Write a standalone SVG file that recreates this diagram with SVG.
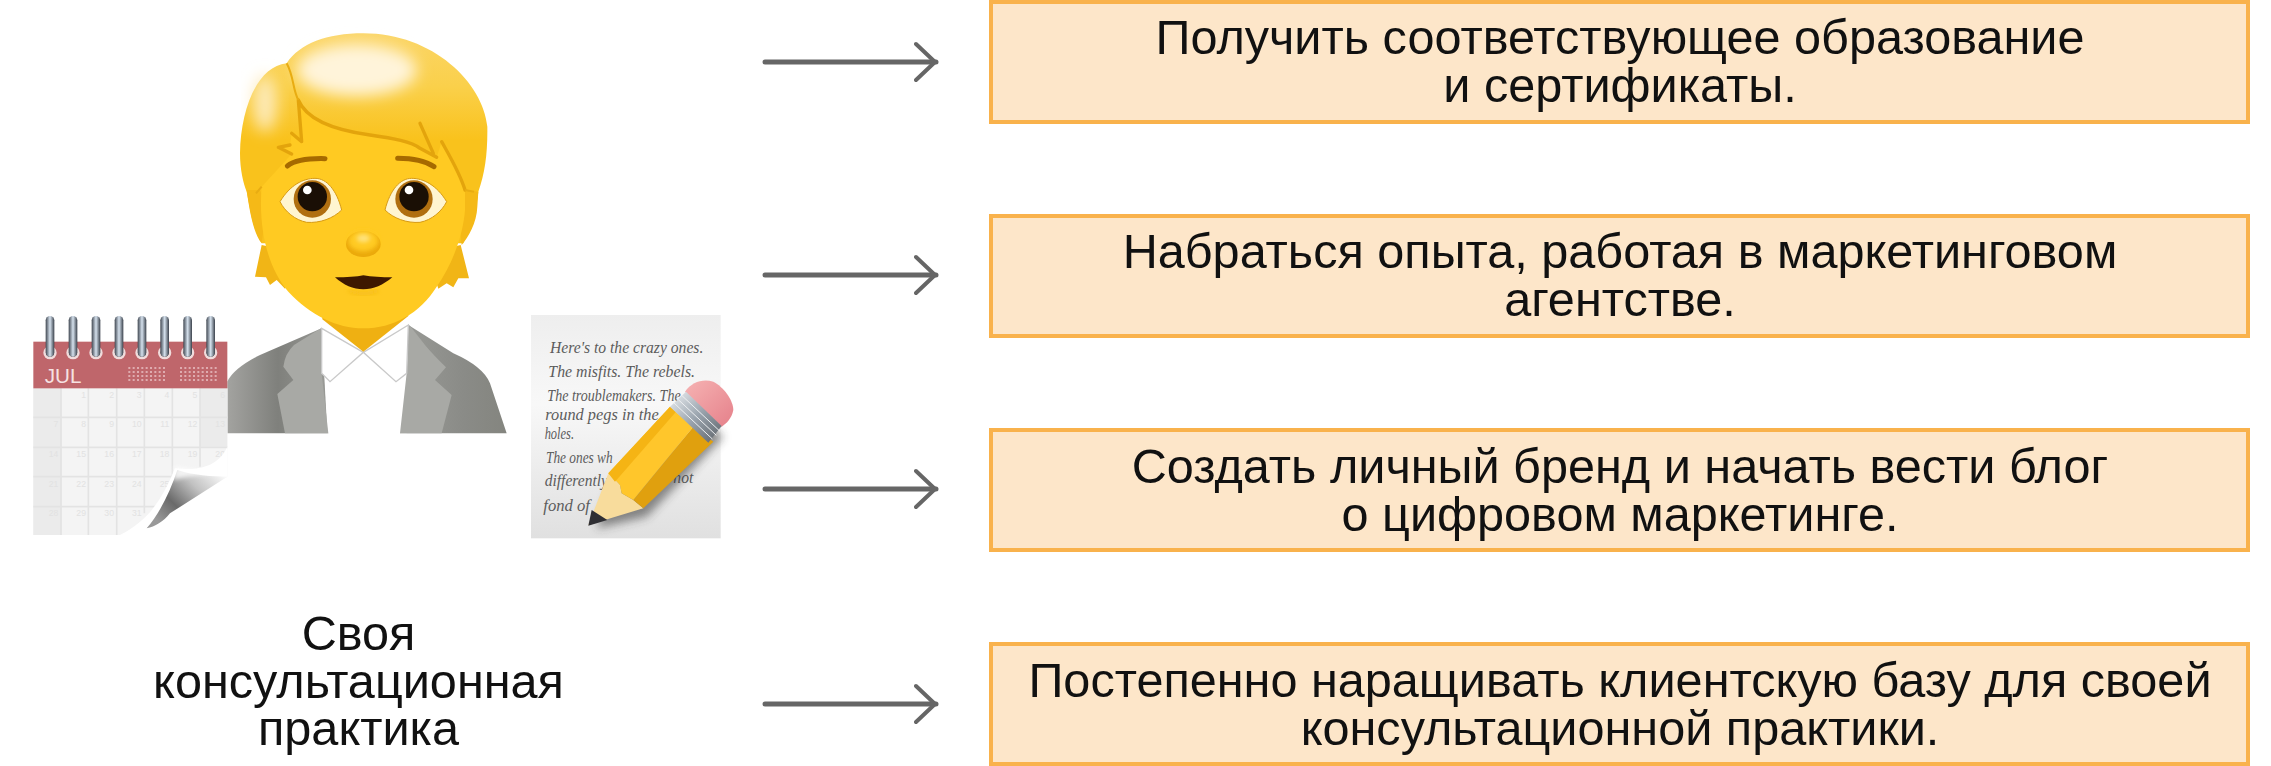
<svg xmlns="http://www.w3.org/2000/svg" width="2271" height="766" viewBox="0 0 2271 766">
<style>
.box{fill:#fde6c9;stroke:#f9b24c;stroke-width:4}
.t{font-family:"Liberation Sans",Arial,sans-serif;font-size:48.6px;fill:#111;text-anchor:middle}
.arr{fill:none;stroke:#666;stroke-linecap:round;stroke-linejoin:round}
.ln{stroke:#e3e3e3;stroke-width:5;fill:none}
.num{font-family:"Liberation Sans",sans-serif;font-size:26px;fill:#e2e2e2;text-anchor:end}
.hw{font-family:"Liberation Serif",serif;font-style:italic;font-size:48px;fill:#5c5c5c}
.strand{fill:none;stroke:#e3a40c;stroke-width:10;stroke-linecap:round;stroke-linejoin:round}
</style>
<defs>
<linearGradient id="hair" gradientUnits="userSpaceOnUse" x1="0" y1="40" x2="0" y2="360"><stop offset="0" stop-color="#fbd566"/><stop offset=".5" stop-color="#fad04a"/><stop offset="1" stop-color="#f9c21c"/></linearGradient>
<linearGradient id="jk" x1="0" y1="0" x2="1" y2="0"><stop offset="0" stop-color="#a3a3a0"/><stop offset=".5" stop-color="#7f807c"/><stop offset="1" stop-color="#9a9b97"/></linearGradient>
<linearGradient id="jk2" x1="0" y1="0" x2="1" y2="0"><stop offset="0" stop-color="#9a9b97"/><stop offset=".6" stop-color="#8a8b87"/><stop offset="1" stop-color="#84857f"/></linearGradient>
<linearGradient id="ring" x1="0" y1="0" x2="1" y2="0"><stop offset="0" stop-color="#3f4650"/><stop offset=".5" stop-color="#d6e2ee"/><stop offset="1" stop-color="#39404a"/></linearGradient>
<linearGradient id="curl" x1=".05" y1=".75" x2=".95" y2=".1"><stop offset="0" stop-color="#999"/><stop offset=".3" stop-color="#6a6a6a"/><stop offset=".65" stop-color="#c2c2c2"/><stop offset="1" stop-color="#f8f8f8"/></linearGradient>
<linearGradient id="paper" x1="0" y1="0" x2="0" y2="1"><stop offset="0" stop-color="#eeeeee"/><stop offset=".4" stop-color="#f8f8f8"/><stop offset="1" stop-color="#e0e0e0"/></linearGradient>
<linearGradient id="pink" x1="0" y1="0" x2="1" y2="1"><stop offset="0" stop-color="#f6b3b3"/><stop offset="1" stop-color="#e5808a"/></linearGradient>
<linearGradient id="metal" x1="0" y1="0" x2="1" y2="1"><stop offset="0" stop-color="#eef1f4"/><stop offset=".5" stop-color="#9aa4ae"/><stop offset="1" stop-color="#5d6268"/></linearGradient>
<filter id="blur" x="-30%" y="-30%" width="160%" height="160%"><feGaussianBlur stdDeviation="14"/></filter>
<filter id="soft" x="-50%" y="-50%" width="200%" height="200%"><feGaussianBlur stdDeviation="22"/></filter>
<filter id="soft2" x="-50%" y="-50%" width="200%" height="200%"><feGaussianBlur stdDeviation="6"/></filter>
<marker id="head" markerUnits="userSpaceOnUse" markerWidth="30" markerHeight="46" refX="22" refY="23" orient="auto"><path d="M2 5L21 23L2 41" fill="none" stroke="#666" stroke-width="4" stroke-linecap="round" stroke-linejoin="round"/></marker>
</defs>

<g id="connectors">
<path class="arr" stroke-width="5" marker-end="url(#head)" d="M765 62H936"/>
<path class="arr" stroke-width="5" marker-end="url(#head)" d="M765 275H936"/>
<path class="arr" stroke-width="5" marker-end="url(#head)" d="M765 489H936"/>
<path class="arr" stroke-width="5" marker-end="url(#head)" d="M765 704H936"/>
</g>

<g id="step1"><rect class="box" x="991" y="2" width="1257" height="120"/>
<text class="t" x="1620" y="54">Получить соответствующее образование</text>
<text class="t" x="1620" y="102">и сертификаты.</text></g>
<g id="step2"><rect class="box" x="991" y="216" width="1257" height="120"/>
<text class="t" x="1620" y="268">Набраться опыта, работая в маркетинговом</text>
<text class="t" x="1620" y="316">агентстве.</text></g>
<g id="step3"><rect class="box" x="991" y="430" width="1257" height="120"/>
<text class="t" x="1620" y="483">Создать личный бренд и начать вести блог</text>
<text class="t" x="1620" y="531">о цифровом маркетинге.</text></g>
<g id="step4"><rect class="box" x="991" y="644" width="1257" height="120"/>
<text class="t" x="1620" y="697">Постепенно наращивать клиентскую базу для своей</text>
<text class="t" x="1620" y="745">консультационной практики.</text></g>

<g id="label">
<text class="t" x="358.500" y="650">Своя</text>
<text class="t" x="358.500" y="698">консультационная</text>
<text class="t" x="358.500" y="745">практика</text>
</g>

<g id="person" transform="translate(220 20) scale(.33333)">
<path fill="url(#jk)" d="M22 1240L22 1085Q40 1045 120 1005L305 925L325 1240Z"/>
<path fill="url(#jk2)" d="M860 1240L810 1090Q790 1040 700 1000L565 915L540 1240Z"/>
<path fill="#fff" d="M305 915L565 915L560 1240L322 1240Z"/>
<path fill="#a8a9a5" d="M303 925L222 975Q195 1000 190 1040L220 1080L172 1122L195 1240L325 1240L305 1060Z"/>
<path fill="#a8a9a5" d="M568 915L615 975Q640 1005 678 1042L645 1080L695 1125L665 1240L540 1240L560 1060Z"/>
<path fill="#fff" stroke="#c9c9c9" stroke-width="4" d="M305 925L430 997L330 1085L305 1060Z"/>
<path fill="#fff" stroke="#c9c9c9" stroke-width="4" d="M565 915L430 997L528 1085L560 1060Z"/>
<path fill="#efb012" d="M307 898L430 995L565 888L565 840L307 840Z"/>
<path fill="#f1b516" d="M125 675L105 770L138 772L150 795L170 780L195 806L240 700ZM722 675L747 775L715 775L700 802L680 790L655 806L620 700Z"/>
<path fill="url(#hair)" d="M200 130C110 140 62 270 60 400C60 450 70 490 80 515C90 560 95 620 125 670L730 670C750 620 770 570 775 515C795 460 803 400 802 320C790 190 640 40 430 40C320 40 240 70 200 130Z"/>
<ellipse cx="410" cy="150" rx="180" ry="78" fill="#fff4da" filter="url(#soft)"/>
<ellipse cx="135" cy="250" rx="35" ry="85" fill="#fdeab8" filter="url(#soft)"/>
<path fill="#f5b917" d="M80 510C88 570 100 640 125 670L140 560L120 510ZM775 515L772 560C770 610 745 650 725 675L715 560L735 510Z"/>
<path fill="#ffca22" d="M235 240C260 300 340 330 450 345C520 355 575 365 600 385L650 412L665 365C690 410 720 460 735 510L735 570C730 640 700 730 650 800C600 880 520 925 430 925C350 925 270 885 205 815C140 740 115 620 125 500L215 402L175 382L210 375L215 340L245 365Z"/>
<path class="strand" d="M235 240C260 300 340 330 450 345C520 355 575 365 600 385L650 412M600 310L640 400M665 365C690 410 720 460 735 510M235 240L245 365L215 340M210 375L175 382L215 402"/>
<path fill="none" stroke="#e8ac12" stroke-width="6" d="M200 130C222 170 218 210 235 240M125 500L108 520M735 510L762 515"/>
<g id="face-details">
<path fill="none" stroke="#a66a00" stroke-width="15" stroke-linecap="round" d="M202 438C225 420 270 415 315 416M533 415C575 415 615 422 642 440"/>
<path fill="#fff5d0" stroke="#d79a12" stroke-width="3" d="M180 545C210 495 250 475 285 475C320 475 350 510 365 570C340 595 300 610 260 607C225 600 195 575 180 545Z"/>
<path fill="#fff5d0" stroke="#d79a12" stroke-width="3" d="M680 545C650 495 610 475 575 475C540 475 510 510 495 570C520 595 560 610 600 607C635 600 665 575 680 545Z"/>
<circle cx="277" cy="537" r="56" fill="#b06f10"/><circle cx="277" cy="530" r="44" fill="#1a0f05"/><circle cx="262" cy="510" r="13" fill="#fff"/>
<circle cx="582" cy="537" r="56" fill="#b06f10"/><circle cx="582" cy="530" r="44" fill="#1a0f05"/><circle cx="567" cy="510" r="13" fill="#fff"/>
<ellipse cx="430" cy="672" rx="52" ry="39" fill="#eba90b"/>
<ellipse cx="430" cy="662" rx="45" ry="32" fill="#ffca22" filter="url(#soft2)"/>
<ellipse cx="430" cy="655" rx="20" ry="12" fill="#ffe27a" filter="url(#soft2)"/>
<path fill="#3d1800" d="M345 772C380 772 410 770 430 766C455 770 485 772 517 772C490 795 460 808 430 808C400 808 370 795 345 772Z"/>
<path fill="none" stroke="#f0b216" stroke-width="6" d="M385 812Q430 830 475 812" filter="url(#soft2)"/>
</g>
</g>

<g id="calendar" transform="translate(0 300) scale(.33333)">
<path fill="#f4f4f4" d="M100 265H682V530L500 620C470 660 430 690 360 705H100Z"/>
<path fill="#ebebeb" d="M100 265H183V705H100ZM600 265H682V440H600Z"/>
<path class="ln" d="M183 265V705M265 265V705M350 265V705M433 265V640M517 265V560M600 265V500M100 352H682M100 442H682M100 530H540M100 620H480"/>
<g class="num">
<text x="258" y="294">1</text><text x="342" y="294">2</text><text x="425" y="294">3</text><text x="508" y="294">4</text><text x="592" y="294">5</text><text x="675" y="294">6</text>
<text x="175" y="382">7</text><text x="258" y="382">8</text><text x="342" y="382">9</text><text x="425" y="382">10</text><text x="508" y="382">11</text><text x="592" y="382">12</text><text x="675" y="382">13</text>
<text x="175" y="472">14</text><text x="258" y="472">15</text><text x="342" y="472">16</text><text x="425" y="472">17</text><text x="508" y="472">18</text><text x="592" y="472">19</text><text x="675" y="472">20</text>
<text x="175" y="560">21</text><text x="258" y="560">22</text><text x="342" y="560">23</text><text x="425" y="560">24</text><text x="508" y="560">25</text>
<text x="175" y="648">28</text><text x="258" y="648">29</text><text x="342" y="648">30</text><text x="425" y="648">31</text>
</g>
<path fill="#fff" d="M682 440C660 490 610 515 525 505C490 590 450 660 360 705C440 700 480 675 510 625L682 530Z"/>
<path fill="url(#curl)" d="M532 510C575 525 640 530 682 530L510 640C490 665 465 680 440 685C480 640 512 570 532 510Z"/>
<path fill="#fff" opacity=".8" filter="url(#soft2)" d="M525 500L640 520L560 530L520 540Z"/>
<rect x="100" y="125" width="582" height="140" fill="#bf666b"/>
<text x="134" y="250" font-family="Liberation Sans,sans-serif" font-size="62" fill="#f6e2e2">JUL</text>
<path fill="none" stroke="#e9c3c5" stroke-width="6" stroke-dasharray="6 7" d="M385 204H500M385 216H500M385 228H500M385 240H500M540 204H655M540 216H655M540 228H655M540 240H655" opacity=".75"/>
<g id="rings">
<g><circle cx="150" cy="158" r="20" fill="#f0dcdc"/><circle cx="150" cy="158" r="12" fill="#302a2c"/><rect x="137" y="48" width="26" height="122" rx="13" fill="url(#ring)"/></g>
<g transform="translate(69 0)"><circle cx="150" cy="158" r="20" fill="#f0dcdc"/><circle cx="150" cy="158" r="12" fill="#302a2c"/><rect x="137" y="48" width="26" height="122" rx="13" fill="url(#ring)"/></g>
<g transform="translate(138 0)"><circle cx="150" cy="158" r="20" fill="#f0dcdc"/><circle cx="150" cy="158" r="12" fill="#302a2c"/><rect x="137" y="48" width="26" height="122" rx="13" fill="url(#ring)"/></g>
<g transform="translate(207 0)"><circle cx="150" cy="158" r="20" fill="#f0dcdc"/><circle cx="150" cy="158" r="12" fill="#302a2c"/><rect x="137" y="48" width="26" height="122" rx="13" fill="url(#ring)"/></g>
<g transform="translate(276 0)"><circle cx="150" cy="158" r="20" fill="#f0dcdc"/><circle cx="150" cy="158" r="12" fill="#302a2c"/><rect x="137" y="48" width="26" height="122" rx="13" fill="url(#ring)"/></g>
<g transform="translate(344 0)"><circle cx="150" cy="158" r="20" fill="#f0dcdc"/><circle cx="150" cy="158" r="12" fill="#302a2c"/><rect x="137" y="48" width="26" height="122" rx="13" fill="url(#ring)"/></g>
<g transform="translate(413 0)"><circle cx="150" cy="158" r="20" fill="#f0dcdc"/><circle cx="150" cy="158" r="12" fill="#302a2c"/><rect x="137" y="48" width="26" height="122" rx="13" fill="url(#ring)"/></g>
<g transform="translate(482 0)"><circle cx="150" cy="158" r="20" fill="#f0dcdc"/><circle cx="150" cy="158" r="12" fill="#302a2c"/><rect x="137" y="48" width="26" height="122" rx="13" fill="url(#ring)"/></g>
</g>
</g>

<g id="note" transform="translate(500 290) scale(.33333)">
<rect x="93" y="75" width="569" height="670" fill="url(#paper)"/>
<g class="hw">
<text x="150" y="188" textLength="460" lengthAdjust="spacingAndGlyphs">Here's to the crazy ones.</text>
<text x="145" y="262" textLength="440" lengthAdjust="spacingAndGlyphs">The misfits. The rebels.</text>
<text x="142" y="332" textLength="400" lengthAdjust="spacingAndGlyphs">The troublemakers. The</text>
<text x="136" y="390" textLength="340" lengthAdjust="spacingAndGlyphs">round pegs in the</text>
<text x="134" y="448" textLength="88" lengthAdjust="spacingAndGlyphs">holes.</text>
<text x="138" y="518" textLength="200" lengthAdjust="spacingAndGlyphs">The ones wh</text>
<text x="134" y="588" textLength="190" lengthAdjust="spacingAndGlyphs">differently</text>
<text x="520" y="580" textLength="60" lengthAdjust="spacingAndGlyphs">not</text>
<text x="130" y="662" textLength="140" lengthAdjust="spacingAndGlyphs">fond of</text>
</g>
<path fill="#333" opacity=".55" filter="url(#blur)" d="M290 715L440 680L670 440L620 400L330 600Z"/>
<path fill="#f8dc9c" d="M325 550L265 705L430 655L400 630L365 610L360 585Z"/>
<path fill="#2f2f33" d="M275 660L265 707L322 690Z"/>
<path fill="#e0a00e" d="M400 630L430 655L640 455L580 410Z"/>
<path fill="#ffc62b" d="M325 550L510 350L580 410L400 630L365 610L360 585Z"/>
<path fill="#f5b414" d="M325 550L510 350L528 365L345 575Z"/>
<path fill="url(#pink)" d="M555 305C575 275 610 265 640 275C670 290 700 330 700 360C695 385 680 400 665 410Z"/>
<path fill="url(#metal)" d="M510 350L558 305L665 408L625 458Z"/>
<path fill="none" stroke="#eef0f2" stroke-width="3" d="M522 339L637 447M534 328L649 436M546 317L660 424"/>
</g>
</svg>
